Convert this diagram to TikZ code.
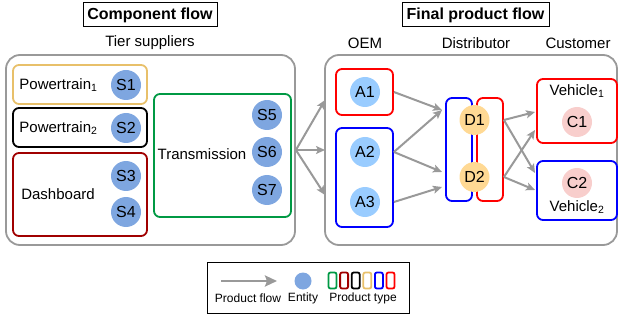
\documentclass[tikz,border=0pt]{standalone}
\usepackage{fontspec}
\setmainfont{Liberation Sans}
\usetikzlibrary{arrows.meta}
\definecolor{flowgray}{RGB}{153,153,153}
\definecolor{typeyellow}{RGB}{232,192,106}
\definecolor{typedarkred}{RGB}{160,0,0}
\definecolor{typegreen}{RGB}{0,153,68}
\definecolor{typeblue}{RGB}{0,0,255}
\definecolor{typered}{RGB}{255,0,0}
\definecolor{entityblue}{RGB}{126,166,224}
\definecolor{oemblue}{RGB}{153,204,255}
\definecolor{distorange}{RGB}{255,217,148}
\definecolor{custpink}{RGB}{248,206,204}

\begin{document}
\begin{tikzpicture}
[x=1pt,y=-1pt,
  groupdecorate/.style={draw=flowgray,line width=1.8pt,rounded corners=14pt,inner sep=0pt},%
  typedecorate/.style={draw,line width=1.8pt,rounded corners=6pt,inner sep=0pt},%
  entitydecorate/.style={shape=circle,minimum size=30pt,inner sep=0pt,font=\fontsize{16}{18}\selectfont},%
  titledecorate/.style={draw,line width=1pt,inner sep=0pt,font=\fontsize{16}{18}\selectfont\bfseries},%
  labeldecorate/.style={font=\fontsize{15}{17}\selectfont},%
  legenddecorate/.style={font=\fontsize{12}{14}\selectfont},%
  arrowdecorate/.style={-{Stealth[length=9pt,width=8pt,inset=2pt]},draw=flowgray,line width=2pt}]
\useasboundingbox (0,0) rectangle (620,320);
%% titles and tier names
\node (comptitle) at (150,15) [titledecorate,minimum width=134,minimum height=24] {Component flow};
\node (prodtitle) at (475.5,15) [titledecorate,minimum width=147,minimum height=24] {Final product flow};
\foreach \nodename/\x/\text in {tier/150/Tier suppliers, oem/365/OEM,
  distributor/476/Distributor, customer/578/Customer}
{
  \node (\nodename) at (\x,43) [labeldecorate] {\text};
}
%% group boxes
\node (supbox) at (150.5,150) [groupdecorate,minimum width=289,minimum height=190] {};
\node (finbox) at (471,150) [groupdecorate,minimum width=292,minimum height=190] {};
%% product type boxes
\foreach \nodename/\x/\y/\w/\h/\colour in {pt1/80/84.5/134/39/typeyellow,
  pt2/80/127.5/134/39/black, dash/80/194.5/134/83/typedarkred,
  trans/222.5/155.5/137/123/typegreen, a1box/364.5/92/57/46/typered,
  a23box/364.5/177.5/57/99/typeblue, dblue/459/149.5/26/103/typeblue,
  dred/490/149.5/26/103/typered, c1box/577/111/80/64/typered,
  c2box/577/190.5/80/59/typeblue}
{
  \node (\nodename) at (\x,\y) [typedecorate,draw=\colour,minimum width=\w,minimum height=\h] {};
}
%% entities
\foreach \nodename/\x/\y/\colour in {S1/126/85/entityblue, S2/126/128/entityblue,
  S3/126/176/entityblue, S4/126/212/entityblue, S5/267/115/entityblue,
  S6/267/152/entityblue, S7/267/190/entityblue, A1/365/92/oemblue,
  A2/365/152/oemblue, A3/365/202/oemblue, D1/474.5/120/distorange,
  D2/474.5/177/distorange, C1/577/122/custpink, C2/577/183/custpink}
{
  \node (\nodename) at (\x,\y) [entitydecorate,fill=\colour] {\nodename};
}
%% type names
\node (pt1name) at (58.5,85) [labeldecorate] {Powertrain\textsubscript{1}};
\node (pt2name) at (58.5,128) [labeldecorate] {Powertrain\textsubscript{2}};
\node (dashname) at (58,194) [labeldecorate] {Dashboard};
\node (transname) at (202,154) [labeldecorate] {Transmission};
\node (c1name) at (577,91) [labeldecorate] {Vehicle\textsubscript{1}};
\node (c2name) at (577,207) [labeldecorate] {Vehicle\textsubscript{2}};
%% ports of the flows
\foreach \nodename/\x/\y in {oemin1/325/100, oemin2/325/150, oemin3/325/195,
  distin1/442/110, distin2/442/172, distin3/442/187,
  cin1/535/112, cin2/535/130, cin3/535/173, cin4/535/190}
{
  \coordinate (\nodename) at (\x,\y);
}
\coordinate (a1out) at (a1box.east |- A1);
\coordinate (a2out) at (a23box.east |- A2);
\coordinate (a3out) at (a23box.east |- A3);
\coordinate (d1out) at (dred.east |- D1);
\coordinate (d2out) at (dred.east |- D2);
%% flows
\foreach \startnode/\endnode in {supbox.east/oemin1, supbox.east/oemin2,
  supbox.east/oemin3, a1out/distin1, a2out/distin1, a2out/distin2,
  a3out/distin3, d1out/cin1, d1out/cin3, d2out/cin2, d2out/cin4}
{
  \draw[arrowdecorate] (\startnode) -- (\endnode);
}
%% legend
\node (legend) at (308,287.5) [draw,line width=1pt,minimum width=202,minimum height=51] {};
\coordinate (legfrom) at (221,281);
\coordinate (legto) at (277,281);
\draw[arrowdecorate,line width=2.6pt,-{Stealth[length=12pt,width=11pt,inset=2pt]}] (legfrom) -- (legto);
\node (legentity) at (303,281) [circle,fill=entityblue,minimum size=17,inner sep=0pt] {};
\foreach \i/\colour in {0/typegreen, 1/typedarkred, 2/black, 3/typeyellow,
  4/typeblue, 5/typered}
{
  \node (legtype\i) at (332.5+11.6*\i,280.5) [typedecorate,draw=\colour,rounded corners=2pt,minimum width=8,minimum height=16] {};
}
\foreach \nodename/\x/\text in {legflow/248/Product flow, legent/303/Entity,
  legtypes/363/Product type}
{
  \node (\nodename) at (\x,298) [legenddecorate] {\text};
}
\end{tikzpicture}
\end{document}
